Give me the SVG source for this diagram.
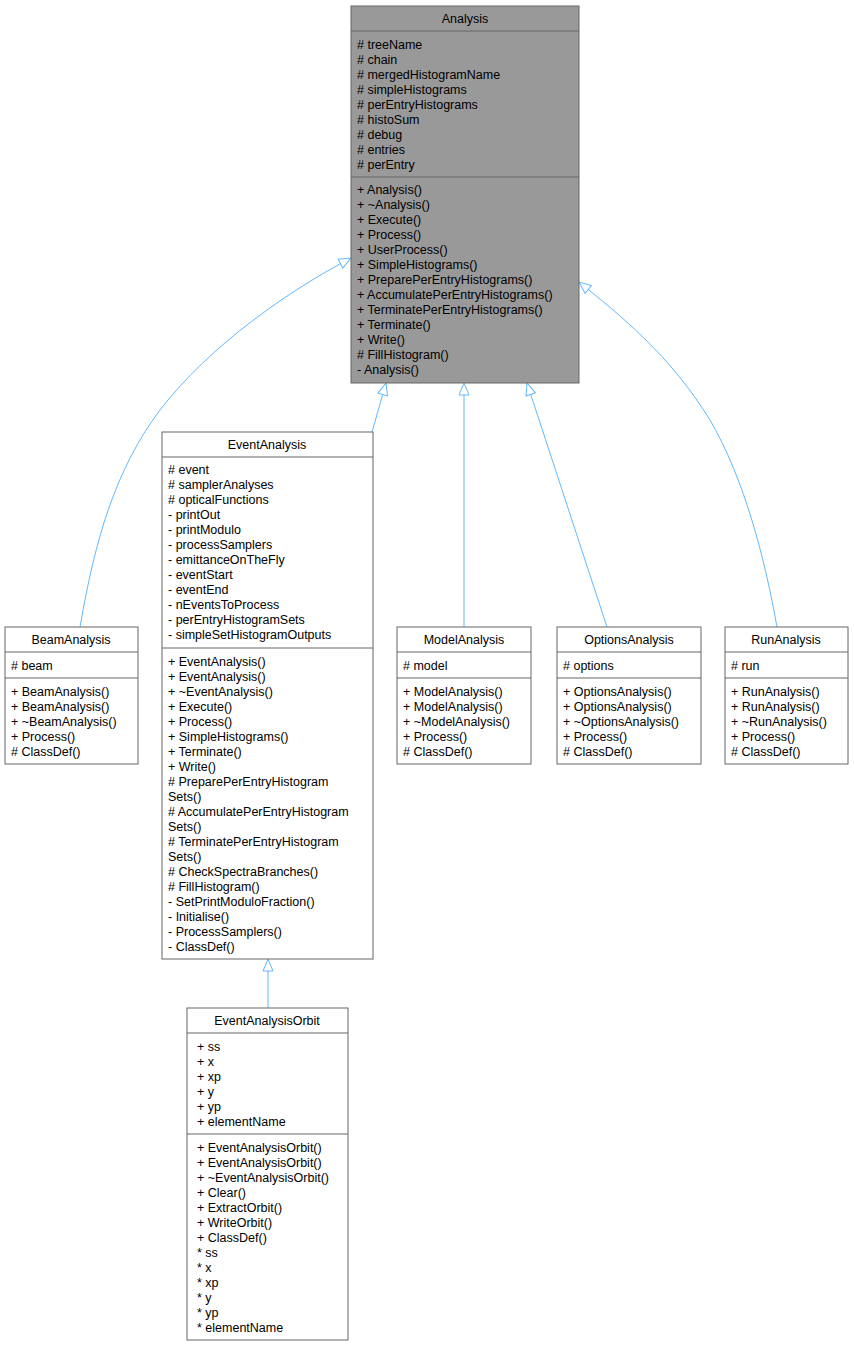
<svg xmlns="http://www.w3.org/2000/svg" width="854" height="1347" viewBox="0 0 854 1347">
<style>
text{font-family:"Liberation Sans",Arial,sans-serif;font-size:12.5px;fill:#000}
.t{text-anchor:middle}
.b{fill:#fff;stroke:#666;stroke-width:1}
.g{fill:#999;stroke:#666;stroke-width:1}
.l{stroke:#666;stroke-width:1}
.e{fill:none;stroke:#63b8ff;stroke-width:1}
</style>
<defs><marker id="a" markerWidth="14" markerHeight="12" refX="13" refY="6" orient="auto" markerUnits="userSpaceOnUse"><path d="M1,1 L13,6 L1,11 Z" fill="#fff" stroke="#63b8ff"/></marker></defs>
<g id="connectors">
<path class="e" d="M80,627 C95,540 115,470 160,410 C210,345 290,290 351,258" marker-end="url(#a)"/>
<path class="e" d="M372,432 L386,383" marker-end="url(#a)"/>
<path class="e" d="M464,627 L464,383" marker-end="url(#a)"/>
<path class="e" d="M607,627 L527,383" marker-end="url(#a)"/>
<path class="e" d="M777,627 C765,560 745,480 710,420 C670,355 620,315 579,282" marker-end="url(#a)"/>
<path class="e" d="M268,1008 L268,959" marker-end="url(#a)"/>
</g>
<g id="Analysis">
<rect class="g" x="351" y="6" width="228" height="377"/>
<line class="l" x1="351" y1="31" x2="579" y2="31"/><line class="l" x1="351" y1="177" x2="579" y2="177"/>
<text class="t" x="465" y="23">Analysis</text>
<text x="357" y="49">
<tspan x="357">#  treeName</tspan><tspan x="357" dy="15">#  chain</tspan><tspan x="357" dy="15">#  mergedHistogramName</tspan><tspan x="357" dy="15">#  simpleHistograms</tspan><tspan x="357" dy="15">#  perEntryHistograms</tspan><tspan x="357" dy="15">#  histoSum</tspan><tspan x="357" dy="15">#  debug</tspan><tspan x="357" dy="15">#  entries</tspan><tspan x="357" dy="15">#  perEntry</tspan></text>
<text x="357" y="194">
<tspan x="357">+  Analysis()</tspan><tspan x="357" dy="15">+  ~Analysis()</tspan><tspan x="357" dy="15">+  Execute()</tspan><tspan x="357" dy="15">+  Process()</tspan><tspan x="357" dy="15">+  UserProcess()</tspan><tspan x="357" dy="15">+  SimpleHistograms()</tspan><tspan x="357" dy="15">+  PreparePerEntryHistograms()</tspan><tspan x="357" dy="15">+  AccumulatePerEntryHistograms()</tspan><tspan x="357" dy="15">+  TerminatePerEntryHistograms()</tspan><tspan x="357" dy="15">+  Terminate()</tspan><tspan x="357" dy="15">+  Write()</tspan><tspan x="357" dy="15">#  FillHistogram()</tspan><tspan x="357" dy="15">-  Analysis()</tspan></text>
</g>
<g id="EventAnalysis">
<rect class="b" x="162" y="432" width="211" height="527"/>
<line class="l" x1="162" y1="457" x2="373" y2="457"/><line class="l" x1="162" y1="648" x2="373" y2="648"/>
<text class="t" x="267" y="449">EventAnalysis</text>
<text x="168" y="474">
<tspan x="168">#  event</tspan><tspan x="168" dy="15">#  samplerAnalyses</tspan><tspan x="168" dy="15">#  opticalFunctions</tspan><tspan x="168" dy="15">-  printOut</tspan><tspan x="168" dy="15">-  printModulo</tspan><tspan x="168" dy="15">-  processSamplers</tspan><tspan x="168" dy="15">-  emittanceOnTheFly</tspan><tspan x="168" dy="15">-  eventStart</tspan><tspan x="168" dy="15">-  eventEnd</tspan><tspan x="168" dy="15">-  nEventsToProcess</tspan><tspan x="168" dy="15">-  perEntryHistogramSets</tspan><tspan x="168" dy="15">-  simpleSetHistogramOutputs</tspan></text>
<text x="168" y="666">
<tspan x="168">+  EventAnalysis()</tspan><tspan x="168" dy="15">+  EventAnalysis()</tspan><tspan x="168" dy="15">+  ~EventAnalysis()</tspan><tspan x="168" dy="15">+  Execute()</tspan><tspan x="168" dy="15">+  Process()</tspan><tspan x="168" dy="15">+  SimpleHistograms()</tspan><tspan x="168" dy="15">+  Terminate()</tspan><tspan x="168" dy="15">+  Write()</tspan><tspan x="168" dy="15">#  PreparePerEntryHistogram</tspan><tspan x="168" dy="15">Sets()</tspan><tspan x="168" dy="15">#  AccumulatePerEntryHistogram</tspan><tspan x="168" dy="15">Sets()</tspan><tspan x="168" dy="15">#  TerminatePerEntryHistogram</tspan><tspan x="168" dy="15">Sets()</tspan><tspan x="168" dy="15">#  CheckSpectraBranches()</tspan><tspan x="168" dy="15">#  FillHistogram()</tspan><tspan x="168" dy="15">-  SetPrintModuloFraction()</tspan><tspan x="168" dy="15">-  Initialise()</tspan><tspan x="168" dy="15">-  ProcessSamplers()</tspan><tspan x="168" dy="15">-  ClassDef()</tspan></text>
</g>
<g id="BeamAnalysis">
<rect class="b" x="5" y="627" width="133" height="137"/>
<line class="l" x1="5" y1="652" x2="138" y2="652"/><line class="l" x1="5" y1="678" x2="138" y2="678"/>
<text class="t" x="71" y="644">BeamAnalysis</text>
<text x="11" y="670">#  beam</text>
<text x="11" y="696"><tspan x="11">+  BeamAnalysis()</tspan><tspan x="11" dy="15">+  BeamAnalysis()</tspan><tspan x="11" dy="15">+  ~BeamAnalysis()</tspan><tspan x="11" dy="15">+  Process()</tspan><tspan x="11" dy="15">#  ClassDef()</tspan></text>
</g>
<g id="ModelAnalysis">
<rect class="b" x="397" y="627" width="134" height="137"/>
<line class="l" x1="397" y1="652" x2="531" y2="652"/><line class="l" x1="397" y1="678" x2="531" y2="678"/>
<text class="t" x="464" y="644">ModelAnalysis</text>
<text x="403" y="670">#  model</text>
<text x="403" y="696"><tspan x="403">+  ModelAnalysis()</tspan><tspan x="403" dy="15">+  ModelAnalysis()</tspan><tspan x="403" dy="15">+  ~ModelAnalysis()</tspan><tspan x="403" dy="15">+  Process()</tspan><tspan x="403" dy="15">#  ClassDef()</tspan></text>
</g>
<g id="OptionsAnalysis">
<rect class="b" x="557" y="627" width="144" height="137"/>
<line class="l" x1="557" y1="652" x2="701" y2="652"/><line class="l" x1="557" y1="678" x2="701" y2="678"/>
<text class="t" x="629" y="644">OptionsAnalysis</text>
<text x="563" y="670">#  options</text>
<text x="563" y="696"><tspan x="563">+  OptionsAnalysis()</tspan><tspan x="563" dy="15">+  OptionsAnalysis()</tspan><tspan x="563" dy="15">+  ~OptionsAnalysis()</tspan><tspan x="563" dy="15">+  Process()</tspan><tspan x="563" dy="15">#  ClassDef()</tspan></text>
</g>
<g id="RunAnalysis">
<rect class="b" x="725" y="627" width="123" height="137"/>
<line class="l" x1="725" y1="652" x2="848" y2="652"/><line class="l" x1="725" y1="678" x2="848" y2="678"/>
<text class="t" x="786" y="644">RunAnalysis</text>
<text x="731" y="670">#  run</text>
<text x="731" y="696"><tspan x="731">+  RunAnalysis()</tspan><tspan x="731" dy="15">+  RunAnalysis()</tspan><tspan x="731" dy="15">+  ~RunAnalysis()</tspan><tspan x="731" dy="15">+  Process()</tspan><tspan x="731" dy="15">#  ClassDef()</tspan></text>
</g>
<g id="EventAnalysisOrbit">
<rect class="b" x="187" y="1008" width="161" height="332"/>
<line class="l" x1="187" y1="1033" x2="348" y2="1033"/><line class="l" x1="187" y1="1134" x2="348" y2="1134"/>
<text class="t" x="267" y="1025">EventAnalysisOrbit</text>
<text x="197" y="1051"><tspan x="197">+  ss</tspan><tspan x="197" dy="15">+  x</tspan><tspan x="197" dy="15">+  xp</tspan><tspan x="197" dy="15">+  y</tspan><tspan x="197" dy="15">+  yp</tspan><tspan x="197" dy="15">+  elementName</tspan></text>
<text x="197" y="1152"><tspan x="197">+  EventAnalysisOrbit()</tspan><tspan x="197" dy="15">+  EventAnalysisOrbit()</tspan><tspan x="197" dy="15">+  ~EventAnalysisOrbit()</tspan><tspan x="197" dy="15">+  Clear()</tspan><tspan x="197" dy="15">+  ExtractOrbit()</tspan><tspan x="197" dy="15">+  WriteOrbit()</tspan><tspan x="197" dy="15">+  ClassDef()</tspan><tspan x="197" dy="15">*  ss</tspan><tspan x="197" dy="15">*  x</tspan><tspan x="197" dy="15">*  xp</tspan><tspan x="197" dy="15">*  y</tspan><tspan x="197" dy="15">*  yp</tspan><tspan x="197" dy="15">*  elementName</tspan></text>
</g>
</svg>
